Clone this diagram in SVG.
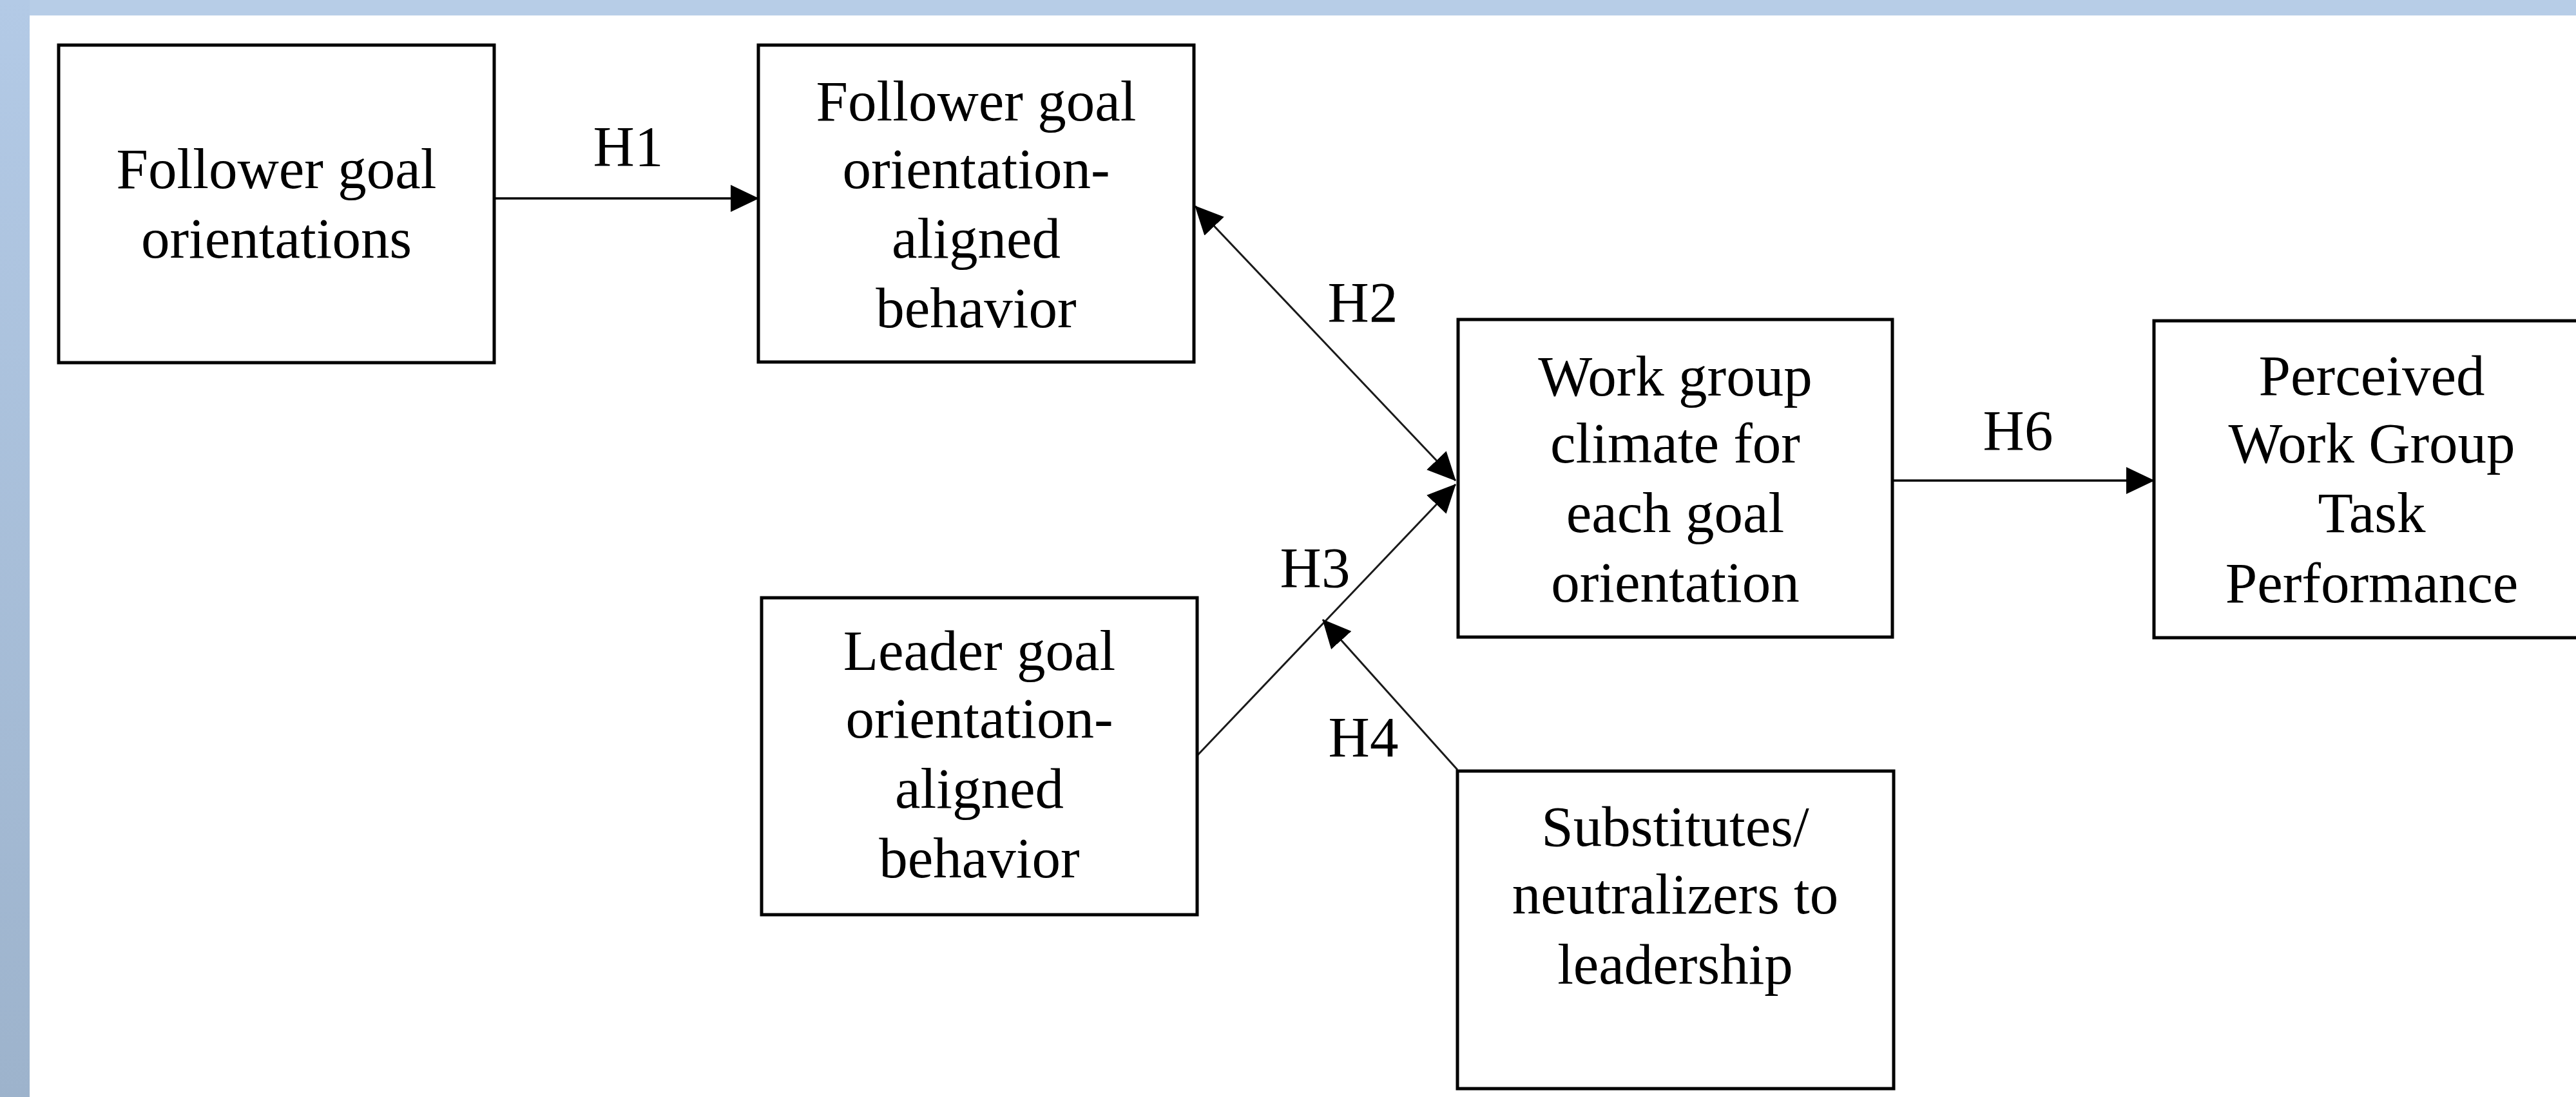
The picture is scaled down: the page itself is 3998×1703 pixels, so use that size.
<svg xmlns="http://www.w3.org/2000/svg" width="3998" height="1703" viewBox="0 0 3998 1703">
<style>
.box{fill:#ffffff;stroke:#000000;stroke-width:5}
.lbl{font-family:"Liberation Serif","Times New Roman",serif;font-size:89px;fill:#000000;text-anchor:middle}
.conn{stroke:#000000;stroke-width:3.5;fill:none}
.diag{stroke:#1a1a1a;stroke-width:3;fill:none}
</style>
<defs>
<linearGradient id="sideGrad" x1="0" y1="0" x2="0" y2="1">
<stop offset="0" stop-color="#b3cae6"/>
<stop offset="1" stop-color="#9db3cc"/>
</linearGradient>
<marker id="arrow" viewBox="0 0 44 42" refX="43" refY="21" markerWidth="44" markerHeight="42" markerUnits="userSpaceOnUse" orient="auto-start-reverse">
<path d="M0,0 L44,21 L0,42 Z" fill="#000000"/>
</marker>
</defs>
<rect x="0" y="0" width="3998" height="1703" fill="#ffffff"/>
<rect x="0" y="0" width="3998" height="24" fill="#b7cde7"/>
<rect x="0" y="0" width="46" height="1703" fill="url(#sideGrad)"/>

<g id="connectors">
<line id="c-h1" class="conn" x1="767" y1="308" x2="1177" y2="308" marker-end="url(#arrow)"/>
<line id="c-h2" class="diag" x1="1855" y1="320" x2="2259" y2="746" marker-start="url(#arrow)" marker-end="url(#arrow)"/>
<line id="c-h3" class="diag" x1="1858" y1="1173" x2="2259" y2="752" marker-end="url(#arrow)"/>
<line id="c-h4" class="diag" x1="2262" y1="1195" x2="2053" y2="962" marker-end="url(#arrow)"/>
<line id="c-h6" class="conn" x1="2937" y1="746" x2="3343" y2="746" marker-end="url(#arrow)"/>
<text class="lbl" x="975" y="257">H1</text>
<text class="lbl" x="2115" y="499">H2</text>
<text class="lbl" x="2041" y="911">H3</text>
<text class="lbl" x="2116" y="1174">H4</text>
<text class="lbl" x="3132" y="698">H6</text>
</g>

<g id="node-follower-goal-orientations">
<rect class="box" x="91" y="70" width="676" height="493"/>
<text class="lbl" x="429" y="292">Follower goal</text>
<text class="lbl" x="429" y="400">orientations</text>
</g>

<g id="node-follower-aligned-behavior">
<rect class="box" x="1177" y="70" width="676" height="492"/>
<text class="lbl" x="1515" y="187">Follower goal</text>
<text class="lbl" x="1515" y="292">orientation-</text>
<text class="lbl" x="1515" y="400">aligned</text>
<text class="lbl" x="1515" y="508">behavior</text>
</g>

<g id="node-leader-aligned-behavior">
<rect class="box" x="1182" y="928" width="676" height="492"/>
<text class="lbl" x="1520" y="1040">Leader goal</text>
<text class="lbl" x="1520" y="1145">orientation-</text>
<text class="lbl" x="1520" y="1254">aligned</text>
<text class="lbl" x="1520" y="1362">behavior</text>
</g>

<g id="node-work-group-climate">
<rect class="box" x="2263" y="496" width="674" height="493"/>
<text class="lbl" x="2600" y="614">Work group</text>
<text class="lbl" x="2600" y="718">climate for</text>
<text class="lbl" x="2600" y="826">each goal</text>
<text class="lbl" x="2600" y="934">orientation</text>
</g>

<g id="node-perceived-performance">
<rect class="box" x="3343" y="498" width="676" height="492"/>
<text class="lbl" x="3681" y="613">Perceived</text>
<text class="lbl" x="3681" y="718">Work Group</text>
<text class="lbl" x="3681" y="826">Task</text>
<text class="lbl" x="3681" y="935">Performance</text>
</g>

<g id="node-substitutes">
<rect class="box" x="2262" y="1197" width="677" height="493"/>
<text class="lbl" x="2600" y="1313">Substitutes/</text>
<text class="lbl" x="2600" y="1418">neutralizers to</text>
<text class="lbl" x="2600" y="1527">leadership</text>
</g>
</svg>
